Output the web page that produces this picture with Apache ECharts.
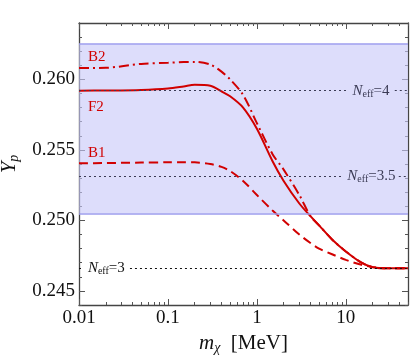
<!DOCTYPE html>
<html>
<head>
<meta charset="utf-8">
<script src="https://cdn.jsdelivr.net/npm/echarts@6/dist/echarts.min.js"></script>
<style>
  html, body { margin: 0; padding: 0; background: #fff; }
  #main { width: 411px; height: 360px; }
</style>
</head>
<body>
<div id="main"></div>
<script>
// curves: m_chi [MeV] vs Y_p
const mass = [0.01, 0.02, 0.05, 0.1, 0.15, 0.2, 0.3, 0.4, 0.5, 0.7, 1.0, 1.5, 2.0, 3.0, 4.0, 5.0, 7.0, 10, 15, 20, 30, 50];
const ypB2 = [0.2608, 0.26082, 0.2611, 0.26118, 0.26123, 0.26124, 0.26105, 0.26055, 0.2600, 0.2589, 0.2569, 0.2547, 0.2536, 0.2518, 0.2503, 0.24965, 0.24865, 0.2478, 0.2470, 0.24668, 0.2466, 0.2466];
const ypF2 = [0.2592, 0.25921, 0.25925, 0.25935, 0.2595, 0.25962, 0.25955, 0.25915, 0.2588, 0.2580, 0.2565, 0.2542, 0.2528, 0.2512, 0.2503, 0.24965, 0.24865, 0.2478, 0.2470, 0.24668, 0.2466, 0.2466];
const ypB1 = [0.25405, 0.25407, 0.2541, 0.25412, 0.25413, 0.25412, 0.2540, 0.2538, 0.2535, 0.2528, 0.2518, 0.2507, 0.2500, 0.2490, 0.2484, 0.2480, 0.2476, 0.2472, 0.24685, 0.2467, 0.2466, 0.2466];

// observational band and N_eff reference levels
const band = [0.2505, 0.2625];
const neffLevels = [0.2592, 0.25315, 0.2466];
const neffNames = ['4', '3.5', '3'];

const xMajor = [0.01, 0.1, 1, 10];
const xMinor = [];
xMajor.forEach(function (d) {
  for (let k = 2; k <= 9; k++) { if (d * k <= 50) xMinor.push(+(d * k).toPrecision(3)); }
});
const yMajor = [0.245, 0.25, 0.255, 0.26];
const yMinor = [0.244, 0.246, 0.247, 0.248, 0.249, 0.251, 0.252, 0.253, 0.254, 0.256, 0.257, 0.258, 0.259, 0.261, 0.262, 0.263];

const red = '#d10000';
const serif = 'Liberation Serif';

function zip(xs, ys) { return xs.map(function (x, i) { return [x, ys[i]]; }); }

const dotDark = { color: '#3b3b55', width: 1, type: [2, 3] };
const dotBlack = { color: '#111', width: 1, type: [2, 3] };

function neffLabel(v) {
  return '{n|N}{s|eff}{e|=' + v + '}';
}
function neffRich(c) {
  return {
    n: { fontFamily: serif, fontStyle: 'italic', fontSize: 15, color: c },
    s: { fontFamily: serif, fontSize: 10, color: c, padding: [7, 0, 0, 0] },
    e: { fontFamily: serif, fontSize: 15, color: c }
  };
}

const axisLineStyle = { color: '#444', width: 1.3 };

function xAxisDef(pos, major, showLine) {
  return {
    type: 'log', min: 0.01, max: 50, logBase: 10, position: pos, offset: 0,
    axisLine: { show: showLine, lineStyle: axisLineStyle },
    axisTick: { show: true, inside: true, length: major ? 6 : 3, customValues: major ? xMajor : xMinor, lineStyle: { color: '#555' } },
    axisLabel: { show: false }, splitLine: { show: false }
  };
}
function yAxisDef(pos, major, showLine) {
  return {
    type: 'value', min: 0.244, max: 0.264, position: pos, offset: 0,
    axisLine: { show: showLine, lineStyle: axisLineStyle },
    axisTick: { show: true, inside: true, length: major ? 6 : 3, customValues: major ? yMajor : yMinor, lineStyle: { color: '#555' } },
    axisLabel: { show: false }, splitLine: { show: false }
  };
}

const chart = echarts.init(document.getElementById('main'), null, { renderer: 'canvas' });

const xMain = xAxisDef('bottom', true, true);
xMain.name = '{i|m}{s|χ}{t|  [MeV]}';
xMain.nameLocation = 'middle';
xMain.nameGap = 16;
xMain.nameTextStyle = {
  rich: {
    i: { fontFamily: serif, fontStyle: 'italic', fontSize: 21, color: '#111' },
    s: { fontFamily: serif, fontStyle: 'italic', fontSize: 14, color: '#111', padding: [10, 0, 0, 0] },
    t: { fontFamily: serif, fontSize: 21, color: '#111' }
  }
};
xMain.axisLabel = {
  show: true, customValues: xMajor, margin: 4,
  fontFamily: serif, fontSize: 19, color: '#111',
  formatter: function (v) { return String(v); }
};

const yMain = yAxisDef('left', true, true);
yMain.name = '{i|Y}{s|p}';
yMain.nameLocation = 'middle';
yMain.nameGap = 58;
yMain.nameRotate = 90;
yMain.nameTextStyle = {
  rich: {
    i: { fontFamily: serif, fontStyle: 'italic', fontSize: 21, color: '#111' },
    s: { fontFamily: serif, fontStyle: 'italic', fontSize: 14, color: '#111', padding: [9, 0, 0, 0] }
  }
};
yMain.axisLabel = {
  show: true, customValues: yMajor, margin: 4,
  fontFamily: serif, fontSize: 19, color: '#111',
  formatter: function (v) { return v.toFixed(3); }
};

const option = {
  animation: false,
  grid: { left: 79, right: 3, top: 23, bottom: 55, outerBoundsMode: 'none', containLabel: false },
  xAxis: [xMain, xAxisDef('bottom', false, false), xAxisDef('top', true, true), xAxisDef('top', false, false)],
  yAxis: [yMain, yAxisDef('left', false, false), yAxisDef('right', true, true), yAxisDef('right', false, false)],
  series: [
    {
      // band + N_eff reference lines + annotations
      type: 'line', xAxisIndex: 0, yAxisIndex: 0, data: [], silent: true,
      markArea: {
        silent: true,
        itemStyle: { color: 'rgba(200,200,248,0.62)' },
        data: [[{ yAxis: band[0] }, { yAxis: band[1] }]]
      },
      markLine: {
        silent: true, symbol: 'none', label: { show: false },
        data: [
          [{ coord: [0.01, band[1]], lineStyle: { color: '#9d9dee', width: 1.5, type: 'solid' } }, { coord: [50, band[1]] }],
          [{ coord: [0.01, band[0]], lineStyle: { color: '#9d9dee', width: 1.5, type: 'solid' } }, { coord: [50, band[0]] }],
          [{ coord: [0.01, neffLevels[0]], lineStyle: dotDark }, { coord: [10.8, neffLevels[0]] }],
          [{ coord: [35.5, neffLevels[0]], lineStyle: dotDark }, { coord: [50, neffLevels[0]] }],
          [{ coord: [0.01, neffLevels[1]], lineStyle: dotDark }, { coord: [9.5, neffLevels[1]] }],
          [{ coord: [39.4, neffLevels[1]], lineStyle: dotDark }, { coord: [50, neffLevels[1]] }],
          [{ coord: [0.01, neffLevels[2]], lineStyle: dotBlack }, { coord: [0.0113, neffLevels[2]] }],
          [{ coord: [0.0374, neffLevels[2]], lineStyle: dotBlack }, { coord: [50, neffLevels[2]] }]
        ]
      },
      markPoint: {
        silent: true, symbol: 'circle', symbolSize: 0,
        label: { show: true, position: 'right', distance: 0 },
        data: [
          { coord: [0.0126, 0.26158], label: { formatter: 'B2', fontFamily: serif, fontSize: 15, color: red } },
          { coord: [0.0126, 0.25803], label: { formatter: 'F2', fontFamily: serif, fontSize: 15, color: red } },
          { coord: [0.0126, 0.25476], label: { formatter: 'B1', fontFamily: serif, fontSize: 15, color: red } },
          { coord: [11.9, neffLevels[0]], label: { formatter: neffLabel(neffNames[0]), rich: neffRich('#3b3b55') } },
          { coord: [10.4, neffLevels[1]], label: { formatter: neffLabel(neffNames[1]), rich: neffRich('#3b3b55') } },
          { coord: [0.0126, neffLevels[2]], label: { formatter: neffLabel(neffNames[2]), rich: neffRich('#111') } }
        ]
      }
    },
    {
      name: 'B2', type: 'line', xAxisIndex: 0, yAxisIndex: 0, smooth: 0.3, symbol: 'none',
      lineStyle: { color: red, width: 2, type: [10, 4, 2, 4] },
      data: zip(mass, ypB2), z: 3
    },
    {
      name: 'F2', type: 'line', xAxisIndex: 0, yAxisIndex: 0, smooth: 0.3, symbol: 'none',
      lineStyle: { color: red, width: 2, type: 'solid' },
      data: zip(mass, ypF2), z: 3
    },
    {
      name: 'B1', type: 'line', xAxisIndex: 0, yAxisIndex: 0, smooth: 0.3, symbol: 'none',
      lineStyle: { color: red, width: 2, type: [9, 5] },
      data: zip(mass, ypB1), z: 3
    }
  ]
};

chart.setOption(option);
</script>
</body>
</html>
